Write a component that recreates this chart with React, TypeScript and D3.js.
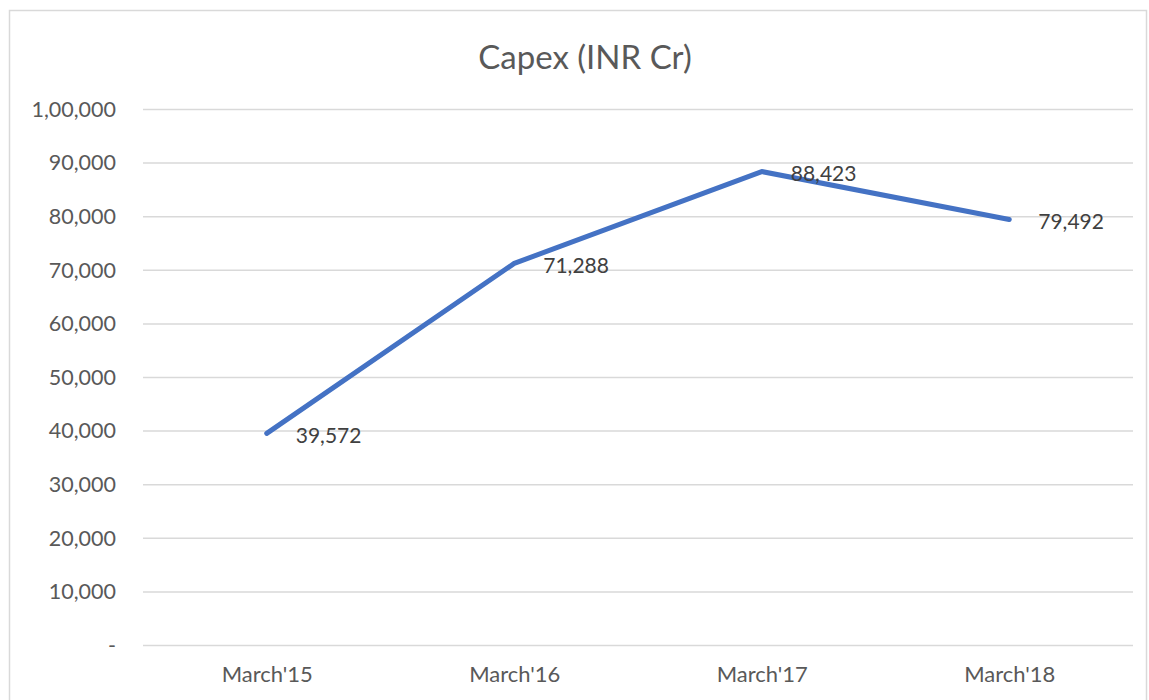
import { useRef, useEffect } from 'react';
import * as d3 from 'd3';

const categories = ["March'15", "March'16", "March'17", "March'18"];
const capex = [39572, 71288, 88423, 79492];
const yTicks = [0, 10000, 20000, 30000, 40000, 50000, 60000, 70000, 80000, 90000, 100000];

// Indian digit grouping, e.g. 1,00,000
function inrFormat(v: number): string {
  if (v === 0) return '-';
  const s = String(Math.round(v));
  if (s.length <= 3) return s;
  const last3 = s.slice(-3);
  const rest = s.slice(0, -3).replace(/\B(?=(\d{2})+(?!\d))/g, ',');
  return `${rest},${last3}`;
}

export default function App() {
  const svgRef = useRef<SVGSVGElement>(null);

  useEffect(() => {
    const svg = d3.select(svgRef.current);
    svg.selectAll('*').remove();

    const W = 1149, H = 700;
    const left = 143, right = 1133, top = 109.5, bottom = 645.5;
    const font = 'Lato, "Open Sans", sans-serif';

    svg.append('rect')
      .attr('x', 0).attr('y', 0).attr('width', W).attr('height', H)
      .attr('fill', '#fff');

    // chart border
    svg.append('rect')
      .attr('x', 9.5).attr('y', 10.5)
      .attr('width', W - 12).attr('height', H)
      .attr('fill', 'none')
      .attr('stroke', '#d9d9d9')
      .attr('stroke-width', 1.5);

    const x = d3.scalePoint<string>().domain(categories).range([left, right]).padding(0.5);
    const y = d3.scaleLinear().domain([0, 100000]).range([bottom, top]);

    // Title
    svg.append('text')
      .attr('x', 585).attr('y', 69)
      .attr('text-anchor', 'middle')
      .attr('fill', '#595959')
      .style('font-family', font)
      .style('font-size', '33px')
      .text('Capex (INR Cr)');

    // Gridlines
    svg.append('g')
      .selectAll('line')
      .data(yTicks)
      .join('line')
      .attr('x1', left).attr('x2', right)
      .attr('y1', d => y(d)).attr('y2', d => y(d))
      .attr('stroke', '#d9d9d9')
      .attr('stroke-width', 1.5);

    // Y axis labels
    const yAxis = svg.append('g')
      .attr('transform', `translate(${left},0)`)
      .call(d3.axisLeft(y).tickValues(yTicks).tickSize(0).tickPadding(27).tickFormat((d: any) => inrFormat(+d)));
    yAxis.select('.domain').remove();
    yAxis.selectAll('text')
      .attr('fill', '#595959')
      .style('font-family', font)
      .style('font-size', '21.5px');

    // X axis labels
    const xAxis = svg.append('g')
      .attr('transform', `translate(0,${bottom})`)
      .call(d3.axisBottom(x).tickSize(0).tickPadding(21));
    xAxis.select('.domain').remove();
    xAxis.selectAll('text')
      .attr('fill', '#595959')
      .style('font-family', font)
      .style('font-size', '22px');

    const pts = categories.map((c, i) => ({ c, v: capex[i] }));

    const line = d3.line<{ c: string; v: number }>()
      .x(d => x(d.c)!)
      .y(d => y(d.v));

    svg.append('path')
      .datum(pts)
      .attr('d', line)
      .attr('fill', 'none')
      .attr('stroke', '#4472c4')
      .attr('stroke-width', 5)
      .attr('stroke-linecap', 'round')
      .attr('stroke-linejoin', 'round');

    // Data labels
    svg.append('g')
      .selectAll('text')
      .data(pts)
      .join('text')
      .attr('x', d => x(d.c)! + 29)
      .attr('y', d => y(d.v) + 2)
      .attr('dy', '0.35em')
      .attr('fill', '#404040')
      .style('font-family', font)
      .style('font-size', '21px')
      .text(d => d3.format(',')(d.v));
  }, []);

  return (
    <svg ref={svgRef} width={1149} height={700}
      style={{ position: 'absolute', left: 0, top: 0, display: 'block' }} />
  );
}
